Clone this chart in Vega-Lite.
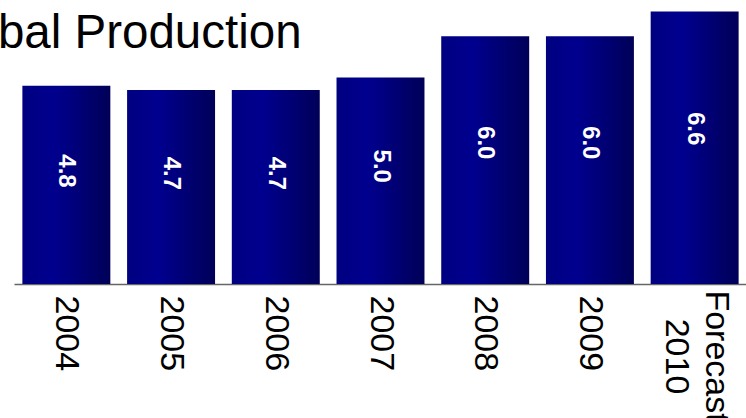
{
  "$schema": "https://vega.github.io/schema/vega-lite/v6.json",
  "autosize": {"type": "none"},
  "padding": {"left": 14, "top": 0, "right": 0, "bottom": 134},
  "width": 733,
  "height": 284,
  "background": "white",
  "config": {"view": {"stroke": null}},
  "title": {
    "text": "Global Production",
    "anchor": "start",
    "frame": "group",
    "font": "Liberation Sans",
    "fontSize": 47.5,
    "fontWeight": "normal",
    "color": "black",
    "baseline": "alphabetic",
    "offset": 0,
    "dx": -90,
    "dy": 95
  },
  "data": {
    "values": [
      {"year": "2004", "production": 4.8},
      {"year": "2005", "production": 4.7},
      {"year": "2006", "production": 4.7},
      {"year": "2007", "production": 5.0},
      {"year": "2008", "production": 6.0},
      {"year": "2009", "production": 6.0},
      {"year": "Forecast 2010", "production": 6.6}
    ]
  },
  "transform": [{"calculate": "datum.production * 0.57", "as": "label_pos"}],
  "encoding": {
    "x": {
      "field": "year",
      "type": "nominal",
      "sort": null,
      "title": null,
      "scale": {"paddingInner": 0.16, "paddingOuter": 0.08},
      "axis": {
        "labelExpr": "split(datum.value, ' ')",
        "labelAngle": 90,
        "labelAlign": {"condition": {"test": "datum.value == 'Forecast 2010'", "value": "center"}, "value": "left"},
        "labelBaseline": "middle",
        "labelOffset": {"condition": {"test": "datum.value == 'Forecast 2010'", "value": 21}, "value": 0},
        "labelPadding": {"condition": {"test": "datum.value == 'Forecast 2010'", "value": 72}, "value": 11},
        "labelFont": "Liberation Sans",
        "labelFontSize": 34,
        "labelColor": "black",
        "labelLineHeight": 40,
        "labelLimit": 200,
        "ticks": false,
        "domainColor": "#666666",
        "domainWidth": 1.5,
        "grid": false
      }
    }
  },
  "layer": [
    {
      "mark": {
        "type": "bar",
        "color": {
          "gradient": "linear",
          "x1": 0, "y1": 0, "x2": 1, "y2": 0,
          "stops": [
            {"offset": 0, "color": "#000080"},
            {"offset": 0.35, "color": "#00008f"},
            {"offset": 1, "color": "#000058"}
          ]
        }
      },
      "encoding": {
        "y": {
          "field": "production",
          "type": "quantitative",
          "scale": {"domain": [0, 6.876], "nice": false},
          "axis": null
        }
      }
    },
    {
      "mark": {
        "type": "text",
        "angle": 90,
        "align": "center",
        "baseline": "middle",
        "font": "Liberation Sans",
        "fontSize": 24,
        "fontWeight": "bold",
        "color": "white"
      },
      "encoding": {
        "y": {"field": "label_pos", "type": "quantitative", "scale": {"domain": [0, 6.876], "nice": false}},
        "text": {"field": "production", "type": "quantitative", "format": ".1f"}
      }
    }
  ]
}
